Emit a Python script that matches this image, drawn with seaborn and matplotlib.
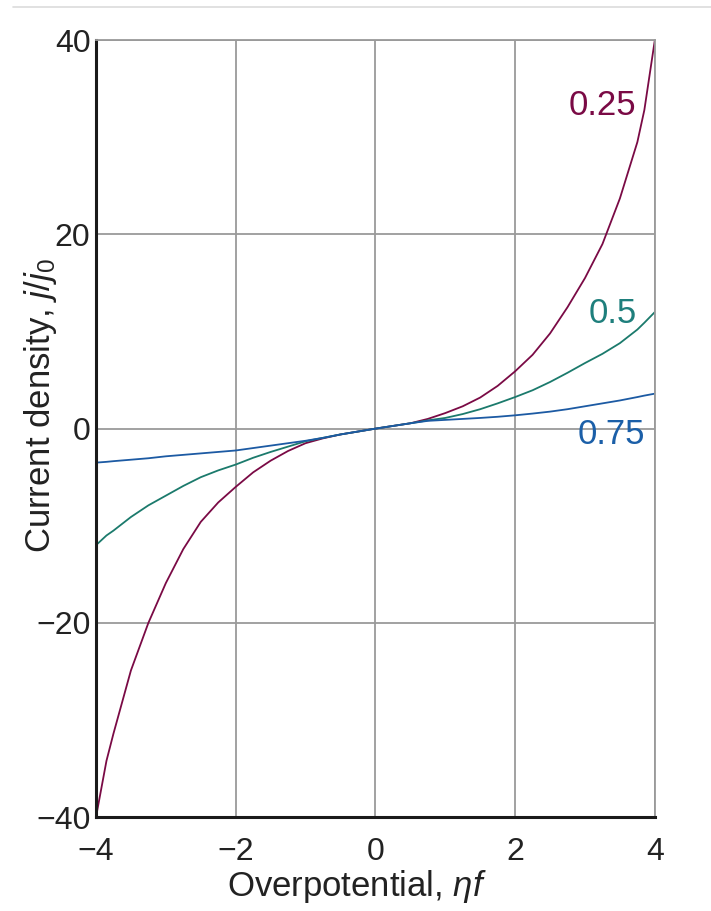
import numpy as np
import pandas as pd
import seaborn as sns
import matplotlib.pyplot as plt
from matplotlib.lines import Line2D

# Overpotential values (ηf) at which the curves were sampled
eta_f = [-4.0, -3.85, -3.75, -3.5, -3.25, -3.0, -2.75, -2.5, -2.25, -2.0, -1.75, -1.5,
         -1.25, -1.0, -0.75, -0.5, 0.0, 0.5, 0.75, 1.0, 1.25, 1.5, 1.75, 2.0, 2.25, 2.5,
         2.75, 3.0, 3.25, 3.5, 3.75, 3.85, 4.0]

# Current density j/j0 for each transfer coefficient
j_025 = [-40.0, -34.2, -31.4, -24.9, -20.0, -15.9, -12.4, -9.6, -7.6, -6.0, -4.5, -3.3,
         -2.3, -1.5, -1.0, -0.6, 0.0, 0.55, 1.0, 1.6, 2.3, 3.2, 4.4, 5.9, 7.6, 9.8,
         12.5, 15.5, 19.0, 23.7, 29.5, 32.8, 40.0]
j_050 = [-12.0, -11.0, -10.5, -9.1, -7.9, -6.9, -5.9, -5.0, -4.3, -3.7, -3.0, -2.4,
         -1.85, -1.3, -0.95, -0.6, 0.0, 0.55, 0.85, 1.1, 1.5, 2.0, 2.6, 3.25, 3.95, 4.8,
         5.75, 6.75, 7.7, 8.8, 10.2, 10.9, 12.0]
j_075 = [-3.5, -3.42, -3.35, -3.2, -3.05, -2.85, -2.7, -2.55, -2.4, -2.25, -2.0, -1.75,
         -1.5, -1.25, -0.95, -0.6, 0.0, 0.55, 0.8, 0.9, 1.0, 1.1, 1.22, 1.37, 1.55, 1.75,
         2.0, 2.3, 2.6, 2.9, 3.25, 3.4, 3.6]

alphas = ["0.25", "0.5", "0.75"]
colors = {"0.25": "#7a0a45", "0.5": "#1b7a6c", "0.75": "#1c5aa3"}
label_colors = {"0.25": "#7a0a45", "0.5": "#1e7f7c", "0.75": "#1b5fa8"}

df = pd.concat([
    pd.DataFrame({"eta_f": eta_f, "j": vals, "alpha": a})
    for a, vals in zip(alphas, [j_025, j_050, j_075])
], ignore_index=True)

sns.set_theme(style="white")
plt.rcParams["font.family"] = ["Liberation Sans", "DejaVu Sans"]
plt.rcParams["mathtext.fontset"] = "custom"
plt.rcParams["mathtext.it"] = "Liberation Sans:italic"
plt.rcParams["mathtext.rm"] = "Liberation Sans"

fig = plt.figure(figsize=(7.11, 9.11), dpi=100)
ax = fig.add_axes([0.135, 0.103, 0.786, 0.853])

sns.lineplot(data=df, x="eta_f", y="j", hue="alpha", palette=colors,
             linewidth=1.3, legend=False, ax=ax, sort=True)

ax.set_xlim(-4, 4)
ax.set_ylim(-40, 40)
ax.set_xticks([-4, -2, 0, 2, 4])
ax.set_yticks([-40, -20, 0, 20, 40])
ax.set_xticklabels(["\u22124", "\u22122", "0", "2", "4"])
ax.set_yticklabels(["\u221240", "\u221220", "0", "20", "40"])
ax.tick_params(axis="both", length=0, labelsize=23, labelcolor="#222222")
ax.tick_params(axis="x", pad=14)
ax.tick_params(axis="y", pad=4)

ax.grid(True, color="#9a9a9a", linewidth=1.3)
ax.set_axisbelow(True)
for side in ["top", "right"]:
    ax.spines[side].set_color("#9a9a9a")
    ax.spines[side].set_linewidth(1.3)
for side in ["left", "bottom"]:
    ax.spines[side].set_color("#1a1a1a")
    ax.spines[side].set_linewidth(2.2)

ax.set_xlabel(r"Overpotential, $\eta f$", fontsize=25, color="#222222")
ax.set_ylabel(r"Current density, $j/j_0$", fontsize=25, color="#222222")
ax.xaxis.set_label_coords(0.467, -0.066)
ax.yaxis.set_label_coords(-0.066, 0.53)

# Curve labels
ax.text(3.74, 33.3, "0.25", color=label_colors["0.25"], fontsize=25, ha="right", va="center")
ax.text(3.74, 11.9, "0.5", color=label_colors["0.5"], fontsize=25, ha="right", va="center")
ax.text(3.86, -0.6, "0.75", color=label_colors["0.75"], fontsize=25, ha="right", va="center")

# Thin rule across the top of the page
fig.add_artist(Line2D([0.018, 1.0], [0.992, 0.992], transform=fig.transFigure,
                      color="#dcdcdc", linewidth=1.2))

fig.savefig("out.png", dpi=100, facecolor="white")
